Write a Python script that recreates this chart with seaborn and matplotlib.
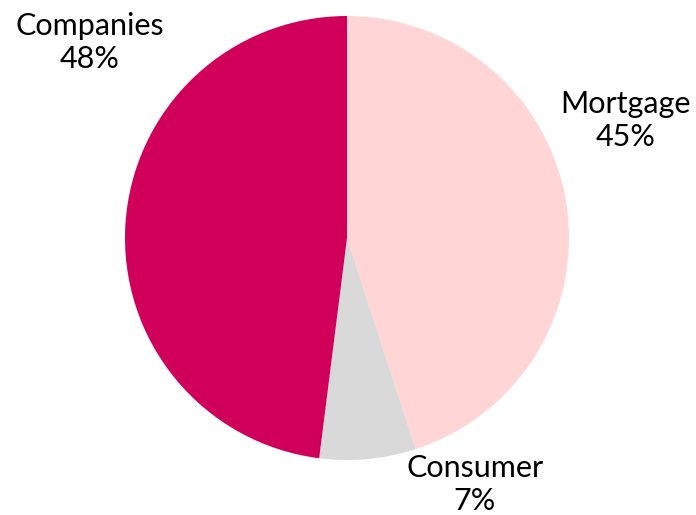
import matplotlib
matplotlib.use('Agg')
import matplotlib.pyplot as plt
import seaborn as sns
import numpy as np

sns.set_theme(style='white')
plt.rcParams['font.family'] = ['Lato', 'DejaVu Sans']

# data
categories = ['Mortgage', 'Consumer', 'Companies']
shares = [45, 7, 48]
colors = ['#FFD5D5', '#D9D9D9', '#D0005A']

# label anchor points (data coords, pie radius = 1)
label_pos = [(1.255, 0.53), (0.575, -1.11), (-1.16, 0.88)]

fig = plt.figure(figsize=(6.96, 5.15), dpi=100)
ax = fig.add_axes([125 / 696, 55 / 515, 444 / 696, 444 / 515])

ax.pie(shares, colors=colors, startangle=90, counterclock=False,
       wedgeprops={'linewidth': 0})
ax.set_xlim(-1, 1)
ax.set_ylim(-1, 1)
ax.set_aspect('equal')

for cat, val, (x, y) in zip(categories, shares, label_pos):
    ax.text(x, y, f"{cat}\n{val}%", ha='center', va='center',
            fontsize=22, linespacing=1.2, color='black', clip_on=False)

fig.savefig('out.png', dpi=100)
